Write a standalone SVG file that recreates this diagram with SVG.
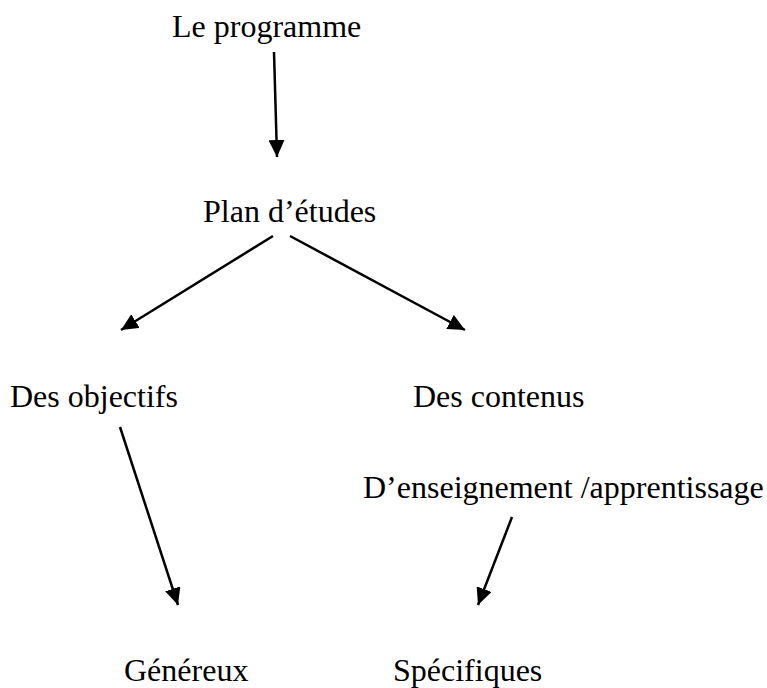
<svg xmlns="http://www.w3.org/2000/svg" width="767" height="688" viewBox="0 0 767 688">
<style>
.t{font-family:"Liberation Serif","Times New Roman",serif;font-size:32px;fill:#000}
.c{stroke:#000;stroke-width:2.5;fill:none;marker-end:url(#ah)}
</style>
<defs>
<marker id="ah" markerUnits="userSpaceOnUse" markerWidth="18" markerHeight="16" refX="17" refY="8" orient="auto" viewBox="0 0 18 16">
<path d="M0,0 L17,8 L0,16 z" fill="#000"/>
</marker>
</defs>
<rect width="767" height="688" fill="#fff"/>
<g id="connectors">
<line class="c" x1="274" y1="52" x2="277" y2="157"/>
<line class="c" x1="273" y1="236" x2="121" y2="330"/>
<line class="c" x1="290" y1="236" x2="465" y2="330"/>
<line class="c" x1="120" y1="427" x2="178" y2="605"/>
<line class="c" x1="512" y1="517" x2="478" y2="605"/>
</g>
<g id="n-programme"><text class="t" x="172" y="37">Le programme</text></g>
<g id="n-plan"><text class="t" x="203" y="222">Plan d’études</text></g>
<g id="n-objectifs"><text class="t" x="10" y="407">Des objectifs</text></g>
<g id="n-contenus"><text class="t" x="413" y="407">Des contenus</text></g>
<g id="n-enseignement"><text class="t" x="363" y="498">D’enseignement /apprentissage</text></g>
<g id="n-genereux"><text class="t" x="124" y="681">Généreux</text></g>
<g id="n-specifiques"><text class="t" x="393" y="681">Spécifiques</text></g>
</svg>
